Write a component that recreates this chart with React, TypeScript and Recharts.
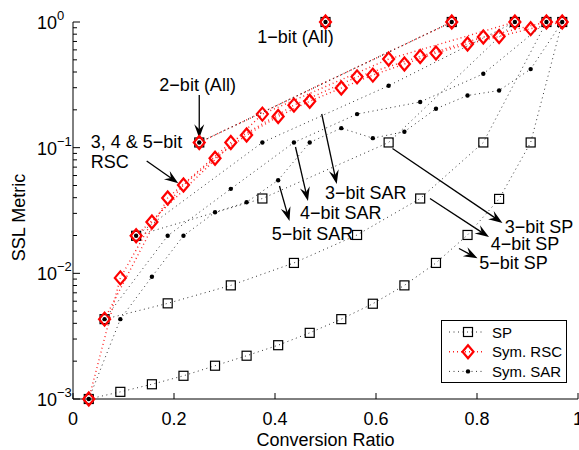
import React from 'react';
import { ScatterChart, Scatter, XAxis, YAxis, Legend, ReferenceLine, ReferenceDot } from 'recharts';

// conversion ratios for each bit depth (odd multiples of 1/2^b)
const ratio5 = [0.03125, 0.09375, 0.15625, 0.21875, 0.28125, 0.34375, 0.40625, 0.46875, 0.53125, 0.59375, 0.65625, 0.71875, 0.78125, 0.84375, 0.90625, 0.96875];
const ratio4 = [0.0625, 0.1875, 0.3125, 0.4375, 0.5625, 0.6875, 0.8125, 0.9375];
const ratio3 = [0.125, 0.375, 0.625, 0.875];
const ratio2 = [0.25, 0.75];
const ratio1 = [0.5];

// SP
const sp5 = [0.001, 0.00114, 0.00131, 0.00153, 0.00184, 0.00221, 0.00268, 0.00336, 0.00432, 0.00573, 0.00802, 0.0121, 0.0202, 0.0391, 0.11, 1];
const sp4 = [0.00432, 0.00577, 0.00802, 0.0121, 0.0202, 0.0394, 0.11, 1];
const sp3 = [0.0199, 0.0394, 0.11, 1];

// Sym. RSC
const rsc5 = [0.001, 0.0092, 0.0256, 0.0505, 0.0824, 0.126, 0.177, 0.234, 0.298, 0.378, 0.463, 0.566, 0.668, 0.767, 0.885, 1];
const rsc4 = [0.00432, 0.0398, 0.11, 0.218, 0.366, 0.532, 0.759, 1];
const rsc3 = [0.0199, 0.185, 0.507, 1];

// Sym. SAR
const sar5 = [0.001, 0.00432, 0.0094, 0.0199, 0.0306, 0.0368, 0.0551, 0.11, 0.143, 0.119, 0.134, 0.204, 0.26, 0.285, 0.422, 1];
const sar4 = [0.00432, 0.0199, 0.047, 0.11, 0.185, 0.231, 0.387, 1];
const sar3 = [0.0199, 0.11, 0.311, 1];

// 1 and 2 bit are the same for every method
const all2 = [0.11, 1];
const all1 = [1];

const xTicks = [0, 0.2, 0.4, 0.6, 0.8, 1];
const yMajor = [0.001, 0.01, 0.1, 1];
const yMinor = [0.002, 0.003, 0.004, 0.005, 0.006, 0.007, 0.008, 0.009, 0.02, 0.03, 0.04, 0.05, 0.06, 0.07, 0.08, 0.09, 0.2, 0.3, 0.4, 0.5, 0.6, 0.7, 0.8, 0.9];

const legendNames = ['SP', 'Sym. RSC', 'Sym. SAR'];

const notes = [
    { text: '1\u2212bit (All)', x: 0.365, y: 0.755 },
    { text: '2\u2212bit (All)', x: 0.171, y: 0.315 },
    { text: '3, 4 & 5\u2212bit', x: 0.035, y: 0.1116 },
    { text: 'RSC', x: 0.035, y: 0.0773 },
    { text: '3\u2212bit SAR', x: 0.499, y: 0.0433 },
    { text: '4\u2212bit SAR', x: 0.4495, y: 0.03 },
    { text: '5\u2212bit SAR', x: 0.3935, y: 0.0205 },
    { text: '3\u2212bit SP', x: 0.855, y: 0.0232 },
    { text: '4\u2212bit SP', x: 0.827, y: 0.017 },
    { text: '5\u2212bit SP', x: 0.8046, y: 0.012 },
];

const arrows = [
    [[0.25, 0.2625], [0.25, 0.1187]],
    [[0.1459, 0.0783], [0.2085, 0.0521]],
    [[0.4925, 0.1853], [0.5222, 0.0514]],
    [[0.4406, 0.1012], [0.4653, 0.0376]],
    [[0.4089, 0.0495], [0.4287, 0.0261]],
    [[0.6327, 0.0985], [0.8505, 0.0252]],
    [[0.7069, 0.0394], [0.8238, 0.01945]],
    [[0.7644, 0.01576], [0.801, 0.01318]],
];

const pts = (xs: number[], ys: number[]) => xs.map((x, i) => ({ x, y: ys[i] }));

const grayLine = { stroke: '#333', strokeWidth: 1, strokeDasharray: '1 3.5' };
const redLine = { stroke: '#ff2020', strokeWidth: 1.4, strokeDasharray: '1 3' };

const Square = ({ cx, cy }: any) => (
    <rect x={cx - 4.5} y={cy - 4.5} width={9} height={9} fill="none" stroke="#000" strokeWidth={1.2} />
);
const Diamond = ({ cx, cy }: any) => (
    <polygon points={`${cx},${cy - 6.5} ${cx + 5.5},${cy} ${cx},${cy + 6.5} ${cx - 5.5},${cy}`} fill="none" stroke="#ff0000" strokeWidth={2.2} />
);
const Dot = ({ cx, cy }: any) => <circle cx={cx} cy={cy} r={2.2} fill="#000" />;

const XTick = ({ x, y, payload }: any) => (
    <g>
        <line x1={x} y1={y} x2={x} y2={y - 6} stroke="#000" />
        <text x={x} y={y + 20} textAnchor="middle" dominantBaseline="central" fontSize={18} fill="#000">
            {String(payload.value)}
        </text>
    </g>
);

const YTick = ({ x, y, payload }: any) => {
    const v = payload.value;
    const major = yMajor.includes(v);
    const exp = Math.round(Math.log10(v));
    return (
        <g>
            <line x1={x} y1={y} x2={x + (major ? 7 : 4)} y2={y} stroke="#000" />
            {major && (
                <text x={x - 36} y={y + 1} dominantBaseline="central" fontSize={18} fill="#000">
                    10
                    <tspan dy={-8} fontSize={13}>{exp === 0 ? '0' : '\u2212' + Math.abs(exp)}</tspan>
                </text>
            )}
        </g>
    );
};

const Arrow = (props: any) => {
    const { x1, y1, x2, y2 } = props;
    const a = Math.atan2(y2 - y1, x2 - x1);
    const c = Math.cos(a), s = Math.sin(a);
    const L = 14, W = 5, N = 9;
    const bx = x2 - L * c, by = y2 - L * s;
    const nx = x2 - N * c, ny = y2 - N * s;
    return (
        <g>
            <line x1={x1} y1={y1} x2={nx} y2={ny} stroke="#000" strokeWidth={1.3} />
            <polygon points={`${x2},${y2} ${bx - W * s},${by + W * c} ${nx},${ny} ${bx + W * s},${by - W * c}`} fill="#000" />
        </g>
    );
};

const NoteText = (text: string) => (props: any) => (
    <text x={props.cx} y={props.cy} dominantBaseline="central" fontSize={18} fill="#000">{text}</text>
);

const YLabel = (props: any) => {
    const vb = props.viewBox;
    const cx = vb.x + 19;
    const cy = vb.y + vb.height / 2 + 7;
    return (
        <text x={cx} y={cy} transform={`rotate(-90, ${cx}, ${cy})`} textAnchor="middle" dominantBaseline="central" fontSize={18} fill="#000">
            SSL Metric
        </text>
    );
};

const LegendBox = () => (
    <div style={{ border: '1px solid #000', background: '#fff', width: 124, height: 61 }}>
        <svg width={124} height={61} style={{ display: 'block' }}>
            {legendNames.map((name, i) => {
                const cy = 11 + i * 19.7;
                const line = i === 1 ? redLine : grayLine;
                return (
                    <g key={name}>
                        <line x1={7} y1={cy} x2={41} y2={cy} {...line} />
                        {i === 0 && <Square cx={26} cy={cy} />}
                        {i === 1 && <Diamond cx={26} cy={cy} />}
                        {i === 2 && <Dot cx={26} cy={cy} />}
                        <text x={50} y={cy} dominantBaseline="central" fontSize={15} fill="#000">{name}</text>
                    </g>
                );
            })}
        </svg>
    </div>
);

export default function App() {
    return (
        <div style={{ position: 'absolute', left: 0, top: 0, width: 579, height: 450, background: '#fff', fontFamily: '"Liberation Sans", Arial, sans-serif' }}>
            <ScatterChart width={579} height={450} margin={{ top: 22, right: 1, bottom: 0, left: 0 }}>
                <XAxis
                    type="number"
                    dataKey="x"
                    domain={[0, 1]}
                    ticks={xTicks}
                    interval={0}
                    height={51}
                    tickSize={0}
                    tickMargin={0}
                    tickLine={false}
                    axisLine={{ stroke: '#000' }}
                    tick={<XTick />}
                    label={{ value: 'Conversion Ratio', position: 'insideBottom', offset: 4, fontSize: 18, fill: '#000' }}
                />
                <YAxis
                    type="number"
                    dataKey="y"
                    scale="log"
                    domain={[0.001, 1]}
                    ticks={[...yMajor, ...yMinor]}
                    interval={0}
                    width={73}
                    tickSize={0}
                    tickMargin={0}
                    tickLine={false}
                    axisLine={{ stroke: '#000' }}
                    tick={<YTick />}
                    label={<YLabel />}
                />

                <Scatter name="SP" data={pts(ratio5, sp5)} line={grayLine} shape={<Square />} isAnimationActive={false} />
                <Scatter name="sp4" legendType="none" data={pts(ratio4, sp4)} line={grayLine} shape={<Square />} isAnimationActive={false} />
                <Scatter name="sp3" legendType="none" data={pts(ratio3, sp3)} line={grayLine} shape={<Square />} isAnimationActive={false} />
                <Scatter name="sp2" legendType="none" data={pts(ratio2, all2)} line={grayLine} shape={<Square />} isAnimationActive={false} />
                <Scatter name="sp1" legendType="none" data={pts(ratio1, all1)} shape={<Square />} isAnimationActive={false} />

                <Scatter name="Sym. RSC" data={pts(ratio5, rsc5)} line={redLine} shape={<Diamond />} isAnimationActive={false} />
                <Scatter name="rsc4" legendType="none" data={pts(ratio4, rsc4)} line={redLine} shape={<Diamond />} isAnimationActive={false} />
                <Scatter name="rsc3" legendType="none" data={pts(ratio3, rsc3)} line={redLine} shape={<Diamond />} isAnimationActive={false} />
                <Scatter name="rsc2" legendType="none" data={pts(ratio2, all2)} line={redLine} shape={<Diamond />} isAnimationActive={false} />
                <Scatter name="rsc1" legendType="none" data={pts(ratio1, all1)} shape={<Diamond />} isAnimationActive={false} />

                <Scatter name="Sym. SAR" data={pts(ratio5, sar5)} line={grayLine} shape={<Dot />} isAnimationActive={false} />
                <Scatter name="sar4" legendType="none" data={pts(ratio4, sar4)} line={grayLine} shape={<Dot />} isAnimationActive={false} />
                <Scatter name="sar3" legendType="none" data={pts(ratio3, sar3)} line={grayLine} shape={<Dot />} isAnimationActive={false} />
                <Scatter name="sar2" legendType="none" data={pts(ratio2, all2)} line={grayLine} shape={<Dot />} isAnimationActive={false} />
                <Scatter name="sar1" legendType="none" data={pts(ratio1, all1)} shape={<Dot />} isAnimationActive={false} />

                {arrows.map((a, i) => (
                    <ReferenceLine key={'a' + i} segment={[{ x: a[0][0], y: a[0][1] }, { x: a[1][0], y: a[1][1] }]} shape={Arrow} />
                ))}
                {notes.map((n, i) => (
                    <ReferenceDot key={'n' + i} x={n.x} y={n.y} r={0} shape={NoteText(n.text)} />
                ))}

                <Legend
                    layout="vertical"
                    align="center"
                    verticalAlign="middle"
                    content={<LegendBox />}
                    wrapperStyle={{ left: 441, top: 320, width: 126, height: 63 }}
                />
            </ScatterChart>
        </div>
    );
}
